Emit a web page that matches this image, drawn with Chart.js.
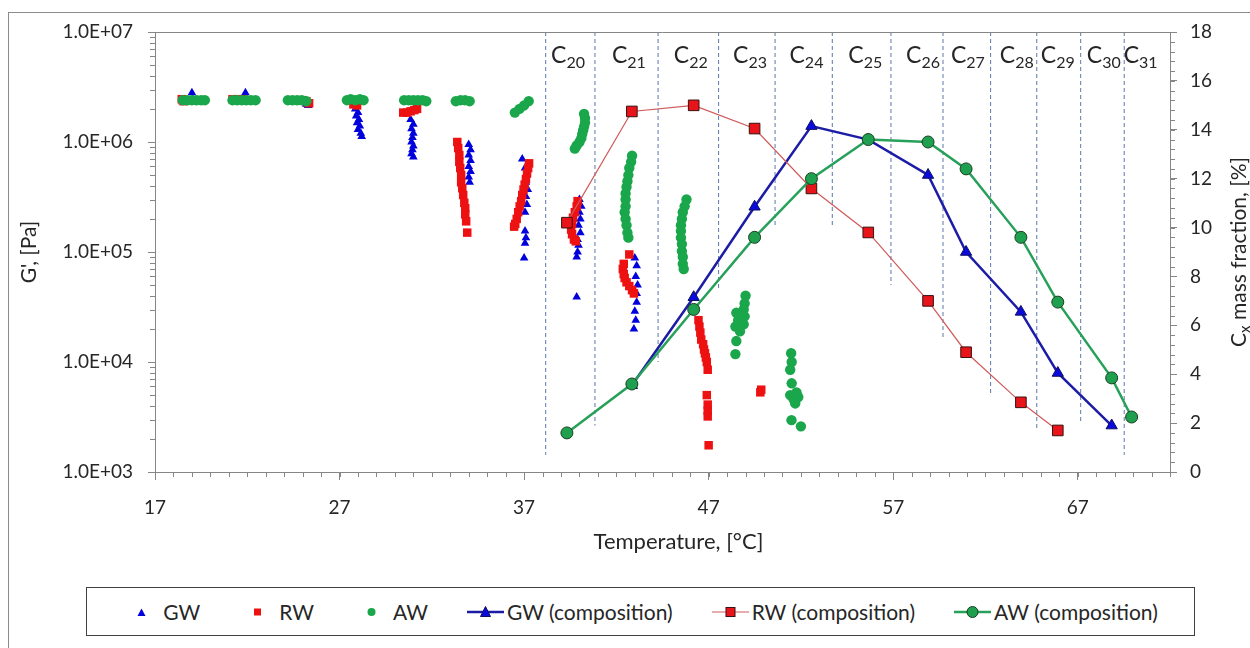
<!DOCTYPE html>
<html>
<head>
<meta charset="utf-8">
<script src="https://cdn.jsdelivr.net/npm/chart.js@4.4.1/dist/chart.umd.min.js"></script>
<style>
  html, body { margin: 0; padding: 0; background: #fff; overflow: hidden; }
  #wrap { position: relative; width: 1250px; height: 648px; overflow: hidden; font-family: Lato, sans-serif; }
  #frame { position: absolute; left: 8px; top: 12px; width: 1300px; height: 700px; border: 1px solid #8c8c8c; box-sizing: border-box; }
  #chart { position: absolute; left: 0; top: 0; }
  #legend {
    position: absolute; left: 86px; top: 587px; width: 1109px; height: 49px;
    box-sizing: border-box; border: 1px solid #404040; background: #fff;
    display: flex; align-items: center; justify-content: center; gap: 39px;
    font-size: 21px; color: #262626;
  }
  #legend .item { display: flex; align-items: center; white-space: nowrap; }
  #legend svg { margin-right: 3px; }
</style>
</head>
<body>
<div id="wrap">
  <div id="frame"></div>
  <canvas id="chart" width="1250" height="648"></canvas>
  <div id="legend"></div>
</div>
<script>
// ---- data ----
// x axis (temperature) and tick labels
const xTickValues = [17, 27, 37, 47, 57, 67];
const xTickLabels = ['17', '27', '37', '47', '57', '67'];
// left axis (G', log) tick labels
const gTickValues = [1e3, 1e4, 1e5, 1e6, 1e7];
const gTickLabels = ['1.0E+03', '1.0E+04', '1.0E+05', '1.0E+06', '1.0E+07'];
// right axis (mass fraction) ticks
const fracTickValues = [0, 2, 4, 6, 8, 10, 12, 14, 16, 18];

// GW rheology points
const gwTemp = [19.0, 19.05, 19.2, 21.9, 21.95, 25.1, 25.2, 25.3,
  27.85, 28.0, 27.9, 28.05, 27.95, 28.1, 28.0, 28.15, 28.2,
  30.85, 31.0, 30.9, 31.0, 30.95, 30.9, 31.0, 30.95, 30.9, 31.0,
  34.0, 34.1, 34.0, 34.1, 34.0, 34.1, 34.0, 34.05,
  36.9, 37.05, 37.15, 37.1, 37.2, 37.1, 37.15, 37.05, 37.05, 37.1, 37.05, 37.0,
  40.0, 40.1, 40.0, 40.05, 39.95, 40.05, 39.9, 39.95, 39.9, 39.85, 39.85,
  43.0, 43.1, 43.05, 43.15, 43.1, 43.1, 43.0, 43.05, 42.95];
const gwG = [2.8e6, 2.45e6, 2.4e6, 2.8e6, 2.45e6, 2.3e6, 2.2e6, 2.15e6,
  2.0e6, 1.85e6, 1.72e6, 1.6e6, 1.5e6, 1.4e6, 1.3e6, 1.2e6, 1.12e6,
  1.6e6, 1.45e6, 1.32e6, 1.2e6, 1.1e6, 1.0e6, 9.2e5, 8.5e5, 7.8e5, 7.3e5,
  9.5e5, 8.5e5, 7.6e5, 6.8e5, 6.0e5, 5.4e5, 4.8e5, 4.3e5,
  7.0e5, 5.8e5, 5.0e5, 4.3e5, 3.7e5, 3.2e5, 2.7e5, 2.3e5, 1.55e5, 1.35e5, 1.2e5, 8.8e4,
  3.0e5, 2.6e5, 2.3e5, 2.0e5, 1.75e5, 1.5e5, 1.3e5, 1.15e5, 1.0e5, 9.0e4, 3.9e4,
  8.8e4, 7.5e4, 6.0e4, 5.0e4, 4.2e4, 3.5e4, 2.9e4, 2.4e4, 2.0e4];

// RW rheology points
const rwTemp = [18.45, 18.5, 18.55, 21.2, 21.5, 21.8, 25.0, 25.2, 25.35, 27.75, 27.95,
  30.45, 30.65, 30.85, 31.05, 31.2,
  33.38, 33.43, 33.49, 33.49, 33.54, 33.59, 33.59, 33.65, 33.7, 33.76, 33.81, 33.81, 33.86, 33.92,
  37.27, 37.22, 37.16, 37.1, 37.03, 36.97, 36.9, 36.84, 36.76, 36.68, 36.6, 36.52, 36.46,
  39.9, 39.85, 39.75, 39.65, 39.6, 39.55, 39.6, 39.7, 39.8,
  42.7, 42.4, 42.35, 42.4, 42.45, 42.55, 42.7, 42.85, 42.95,
  46.45, 46.5, 46.55, 46.6, 46.7, 46.75, 46.8, 46.85, 46.9, 46.95, 46.9, 46.95, 46.95, 46.95, 47.0,
  49.8, 49.85];
const rwG = [2.45e6, 2.4e6, 2.35e6, 2.45e6, 2.45e6, 2.45e6, 2.4e6, 2.35e6, 2.25e6, 2.2e6, 2.15e6,
  1.85e6, 1.85e6, 1.9e6, 1.95e6, 2.0e6,
  1.0e6, 8.8e5, 7.6e5, 6.6e5, 5.8e5, 5.0e5, 4.3e5, 3.8e5, 3.3e5, 2.8e5, 2.5e5, 2.2e5, 1.9e5, 1.5e5,
  6.4e5, 5.8e5, 5.2e5, 4.6e5, 4.1e5, 3.7e5, 3.3e5, 2.9e5, 2.6e5, 2.3e5, 2.0e5, 1.8e5, 1.7e5,
  2.9e5, 2.6e5, 2.3e5, 2.05e5, 1.8e5, 1.6e5, 1.45e5, 1.3e5, 1.25e5,
  9.5e4, 7.8e4, 7.0e4, 6.3e4, 5.8e4, 5.3e4, 4.9e4, 4.5e4, 4.2e4,
  2.4e4, 2.1e4, 1.85e4, 1.6e4, 1.45e4, 1.3e4, 1.2e4, 1.1e4, 1.0e4, 8.5e3, 5.0e3, 4.1e3, 3.6e3, 3.2e3, 1.75e3,
  5.3e3, 5.6e3];

// AW rheology points
const awTemp = [18.5, 18.75, 19.0, 19.25, 19.5, 19.7,
  21.2, 21.45, 21.7, 21.95, 22.2, 22.45,
  24.2, 24.45, 24.7, 24.95, 25.2,
  27.4, 27.6, 27.85, 28.1, 28.3,
  30.5, 30.75, 31.0, 31.25, 31.5, 31.7,
  33.3, 33.55, 33.8, 34.05,
  36.5, 36.75, 37.0, 37.25,
  40.25, 40.3, 40.3, 40.25, 40.2, 40.15, 40.1, 40.0, 39.85, 39.75,
  42.85, 42.8, 42.7, 42.65, 42.6, 42.55, 42.5, 42.5, 42.5, 42.45, 42.5, 42.55, 42.6, 42.65,
  45.8, 45.7, 45.6, 45.55, 45.5, 45.5, 45.5, 45.55, 45.55, 45.6, 45.6, 45.65,
  49.0, 48.95, 48.9, 48.5, 48.95, 48.6, 48.9, 48.45, 48.7, 48.5, 48.45,
  51.47, 51.5, 51.42, 51.5, 51.76, 51.42, 51.86, 51.69, 51.6, 51.49, 52.0];
const awG = [2.4e6, 2.4e6, 2.4e6, 2.4e6, 2.4e6, 2.4e6,
  2.4e6, 2.4e6, 2.4e6, 2.4e6, 2.4e6, 2.4e6,
  2.4e6, 2.4e6, 2.4e6, 2.4e6, 2.35e6,
  2.4e6, 2.45e6, 2.4e6, 2.45e6, 2.4e6,
  2.4e6, 2.4e6, 2.4e6, 2.4e6, 2.4e6, 2.35e6,
  2.35e6, 2.4e6, 2.4e6, 2.35e6,
  1.85e6, 2.0e6, 2.15e6, 2.35e6,
  1.8e6, 1.65e6, 1.5e6, 1.38e6, 1.28e6, 1.18e6, 1.08e6, 1.0e6, 9.3e5, 8.7e5,
  7.5e5, 6.6e5, 5.8e5, 5.0e5, 4.4e5, 3.9e5, 3.4e5, 3.0e5, 2.6e5, 2.3e5, 2.0e5, 1.75e5, 1.5e5, 1.35e5,
  3.0e5, 2.6e5, 2.3e5, 2.0e5, 1.75e5, 1.55e5, 1.35e5, 1.18e5, 1.02e5, 9.0e4, 7.8e4, 7.0e4,
  4.0e4, 3.4e4, 3.0e4, 2.8e4, 2.6e4, 2.4e4, 2.2e4, 2.1e4, 1.9e4, 1.55e4, 1.18e4,
  1.2e4, 1.0e4, 8.5e3, 6.4e3, 5.3e3, 5.0e3, 4.8e3, 4.2e3, 4.6e3, 2.96e3, 2.6e3];

// wax composition (right axis, %) per carbon number
const carbonNumbers = ['20', '21', '22', '23', '24', '25', '26', '27', '28', '29', '30', '31'];
const compTemps = [39.32, 42.84, 46.19, 49.49, 52.57, 55.65, 58.89, 60.95, 63.92, 65.92, 68.84, 69.92];
const gwComp = [null, 3.55, 7.15, 10.85, 14.15, 13.6, 12.15, 9.0, 6.55, 4.05, 1.9, null];
const rwComp = [10.2, 14.75, 15.0, 14.05, 11.6, 9.8, 7.0, 4.9, 2.85, 1.7, null, null];
const awComp = [1.6, 3.6, 6.65, 9.6, 12.0, 13.6, 13.5, 12.4, 9.6, 6.95, 3.85, 2.25];

// carbon-number boundaries (dashed lines) and label positions
const boundaryTemps = [38.17, 40.84, 44.26, 47.54, 50.6, 53.7, 56.88, 59.7, 62.28, 64.78, 67.16, 69.52];
const boundaryEnds = [0.7, 1.9, 4.5, 7.4, 10.0, 10.0, 7.65, 5.4, 3.2, 1.7, 2.0, 0.7];
const labelTemps = [39.38, 42.68, 46.03, 49.24, 52.3, 55.49, 58.62, 61.05, 63.7, 65.92, 68.41, 70.41];

// ---- styling ----
const axisColor = '#868686';
const textColor = '#262626';
const tickFont = { family: 'Lato', size: 19 };
const titleFont = { family: 'Lato', size: 21 };

function toPoints(xs, ys) {
  const pts = [];
  xs.forEach((v, i) => { if (ys[i] !== null) pts.push({ x: v, y: ys[i] }); });
  return pts;
}

const boundaryData = [];
boundaryTemps.forEach((t, i) => {
  boundaryData.push({ x: t, y: 18 });
  boundaryData.push({ x: t, y: boundaryEnds[i] });
  boundaryData.push({ x: t, y: null });
});

// minor ticks + top border of plot area
const frameTicks = {
  id: 'frameTicks',
  afterDraw(chart) {
    const { ctx, chartArea: a, scales: { x, y, y2 } } = chart;
    ctx.save();
    ctx.strokeStyle = axisColor;
    ctx.lineWidth = 1;
    ctx.beginPath();
    ctx.moveTo(a.left, Math.round(a.top) + 0.5);
    ctx.lineTo(a.right, Math.round(a.top) + 0.5);
    for (let t = 17; t <= 72; t += 1) {
      const px = Math.round(x.getPixelForValue(t)) + 0.5;
      ctx.moveTo(px, a.bottom);
      ctx.lineTo(px, a.bottom + 5);
    }
    for (let d = 1e3; d < 1e7; d *= 10) {
      for (let m = 2; m <= 9; m++) {
        const py = Math.round(y.getPixelForValue(d * m)) + 0.5;
        ctx.moveTo(a.left, py);
        ctx.lineTo(a.left - 5, py);
      }
    }
    for (let k = 1; k < 45; k++) {
      const py = Math.round(y2.getPixelForValue(k * 0.4)) + 0.5;
      ctx.moveTo(a.right, py);
      ctx.lineTo(a.right + 5, py);
    }
    ctx.stroke();
    ctx.restore();
  }
};

// C20..C31 labels, x title and the right axis title (with subscripts)
const extraText = {
  id: 'extraText',
  afterDraw(chart) {
    const { ctx, chartArea: a, scales: { x } } = chart;
    ctx.save();
    ctx.fillStyle = textColor;
    ctx.textBaseline = 'alphabetic';
    ctx.textAlign = 'left';
    carbonNumbers.forEach((n, i) => {
      ctx.font = '23px Lato';
      const wC = ctx.measureText('C').width;
      ctx.font = '16px Lato';
      const wN = ctx.measureText(n).width;
      const left = x.getPixelForValue(labelTemps[i]) - (wC + wN) / 2;
      ctx.font = '23px Lato';
      ctx.fillText('C', left, a.top + 31);
      ctx.font = '16px Lato';
      ctx.fillText(n, left + wC, a.top + 36);
    });

    // x axis title
    ctx.font = '22px Lato';
    ctx.textAlign = 'center';
    ctx.textBaseline = 'middle';
    ctx.fillText('Temperature, [°C]', (a.left + a.right) / 2 + 16, a.bottom + 70);

    // right axis title, reading bottom to top
    ctx.textAlign = 'left';
    ctx.textBaseline = 'alphabetic';
    const parts = [['C', '21px Lato', 0], ['x', '15px Lato', 4], [' mass fraction, [%]', '21px Lato', 0]];
    let total = 0;
    parts.forEach(p => { ctx.font = p[1]; total += ctx.measureText(p[0]).width; });
    ctx.translate(1239, (a.top + a.bottom) / 2);
    ctx.rotate(-Math.PI / 2);
    let cx = -total / 2;
    parts.forEach(p => {
      ctx.font = p[1];
      ctx.fillText(p[0], cx, 7 + p[2]);
      cx += ctx.measureText(p[0]).width;
    });
    ctx.restore();
  }
};

const ctx = document.getElementById('chart').getContext('2d');
const chart = new Chart(ctx, {
  type: 'scatter',
  data: {
    datasets: [
      {
        label: 'AW (composition)', data: toPoints(compTemps, awComp), yAxisID: 'y2', order: 1,
        showLine: true, borderColor: '#27a05a', borderWidth: 2.5,
        pointStyle: 'circle', pointRadius: 6, pointBackgroundColor: '#1fa04f',
        pointBorderColor: '#1d3d22', pointBorderWidth: 1
      },
      {
        label: 'RW (composition)', data: toPoints(compTemps, rwComp), yAxisID: 'y2', order: 2,
        showLine: true, borderColor: '#cf5a5a', borderWidth: 1.2,
        pointStyle: 'rect', pointRadius: 7.5, pointBackgroundColor: '#e8141a',
        pointBorderColor: '#3a1010', pointBorderWidth: 1
      },
      {
        label: 'GW (composition)', data: toPoints(compTemps, gwComp), yAxisID: 'y2', order: 3,
        showLine: true, borderColor: '#1c1ca6', borderWidth: 2.5,
        pointStyle: 'triangle', pointRadius: 6.5, pointBackgroundColor: '#0a0adc',
        pointBorderColor: '#101060', pointBorderWidth: 1
      },
      {
        label: 'AW', data: toPoints(awTemp, awG), yAxisID: 'y', order: 4,
        pointStyle: 'circle', pointRadius: 5.2, pointBackgroundColor: '#1aa64b',
        pointBorderColor: '#1aa64b', pointBorderWidth: 0
      },
      {
        label: 'RW', data: toPoints(rwTemp, rwG), yAxisID: 'y', order: 5,
        pointStyle: 'rect', pointRadius: 6, pointBackgroundColor: '#ee1111',
        pointBorderColor: '#ee1111', pointBorderWidth: 0
      },
      {
        label: 'GW', data: toPoints(gwTemp, gwG), yAxisID: 'y', order: 6,
        pointStyle: 'triangle', pointRadius: 5, pointBackgroundColor: '#0000dd',
        pointBorderColor: '#0000dd', pointBorderWidth: 0
      },
      {
        label: 'boundaries', data: boundaryData, yAxisID: 'y2', order: 7,
        showLine: true, spanGaps: false, borderColor: '#5a78ad', borderWidth: 1,
        borderDash: [4, 3], pointRadius: 0
      }
    ]
  },
  options: {
    responsive: false,
    animation: false,
    events: [],
    layout: { padding: { left: 14, top: 32, right: 0, bottom: 90 } },
    plugins: { legend: { display: false }, tooltip: { enabled: false } },
    scales: {
      x: {
        type: 'linear', min: 17, max: 72, position: 'bottom',
        afterBuildTicks: s => { s.ticks = xTickValues.map(v => ({ value: v })); },
        afterFit: s => { s.height = 86; },
        ticks: {
          autoSkip: false, maxRotation: 0, padding: 16, color: textColor, font: tickFont,
          callback: v => xTickLabels[xTickValues.indexOf(v)] ?? ''
        },
        grid: { drawOnChartArea: false, tickLength: 8, color: axisColor },
        border: { color: axisColor }
      },
      y: {
        type: 'logarithmic', min: 1e3, max: 1e7, position: 'left',
        afterBuildTicks: s => { s.ticks = gTickValues.map(v => ({ value: v })); },
        afterFit: s => { s.width = 141; },
        ticks: {
          autoSkip: false, padding: 15, color: textColor, font: tickFont,
          callback: v => gTickLabels[gTickValues.indexOf(v)] ?? ''
        },
        grid: { drawOnChartArea: false, tickLength: 7, color: axisColor },
        border: { color: axisColor },
        title: { display: true, text: "G', [Pa]", color: textColor, font: titleFont, padding: { top: 3, bottom: 0 } }
      },
      y2: {
        type: 'linear', min: 0, max: 18, position: 'right',
        afterBuildTicks: s => { s.ticks = fracTickValues.map(v => ({ value: v })); },
        afterFit: s => { s.width = 80; },
        ticks: { autoSkip: false, padding: 13, color: textColor, font: tickFont },
        grid: { drawOnChartArea: false, tickLength: 7, color: axisColor },
        border: { color: axisColor }
      }
    }
  },
  plugins: [frameTicks, extraText]
});

// legend box like the original (line + marker for the composition series)
const legendItems = [
  { text: 'GW', icon: '<polygon points="14.5,12 22.5,12 18.5,4.5" fill="#0000dd"/>' },
  { text: 'RW', icon: '<rect x="15" y="4.5" width="7" height="7" fill="#ee1111"/>' },
  { text: 'AW', icon: '<circle cx="18.5" cy="8" r="4" fill="#1aa64b"/>' },
  { text: 'GW (composition)', icon: '<line x1="0" y1="8" x2="37" y2="8" stroke="#1c1ca6" stroke-width="2.5"/><polygon points="13.5,12.5 23.5,12.5 18.5,2.5" fill="#0a0adc" stroke="#101060" stroke-width="1"/>' },
  { text: 'RW (composition)', icon: '<line x1="0" y1="8" x2="37" y2="8" stroke="#cf5a5a" stroke-width="1.2"/><rect x="14" y="3.5" width="9" height="9" fill="#e8141a" stroke="#3a1010" stroke-width="1"/>' },
  { text: 'AW (composition)', icon: '<line x1="0" y1="8" x2="37" y2="8" stroke="#27a05a" stroke-width="2.5"/><circle cx="18.5" cy="8" r="5.5" fill="#1fa04f" stroke="#1d3d22" stroke-width="1"/>' }
];
const legendEl = document.getElementById('legend');
legendItems.forEach(item => {
  const span = document.createElement('span');
  span.className = 'item';
  span.innerHTML = '<svg width="37" height="16" viewBox="0 0 37 16">' + item.icon + '</svg>';
  const label = document.createElement('span');
  label.textContent = item.text;
  span.appendChild(label);
  legendEl.appendChild(span);
});
</script>
</body>
</html>
